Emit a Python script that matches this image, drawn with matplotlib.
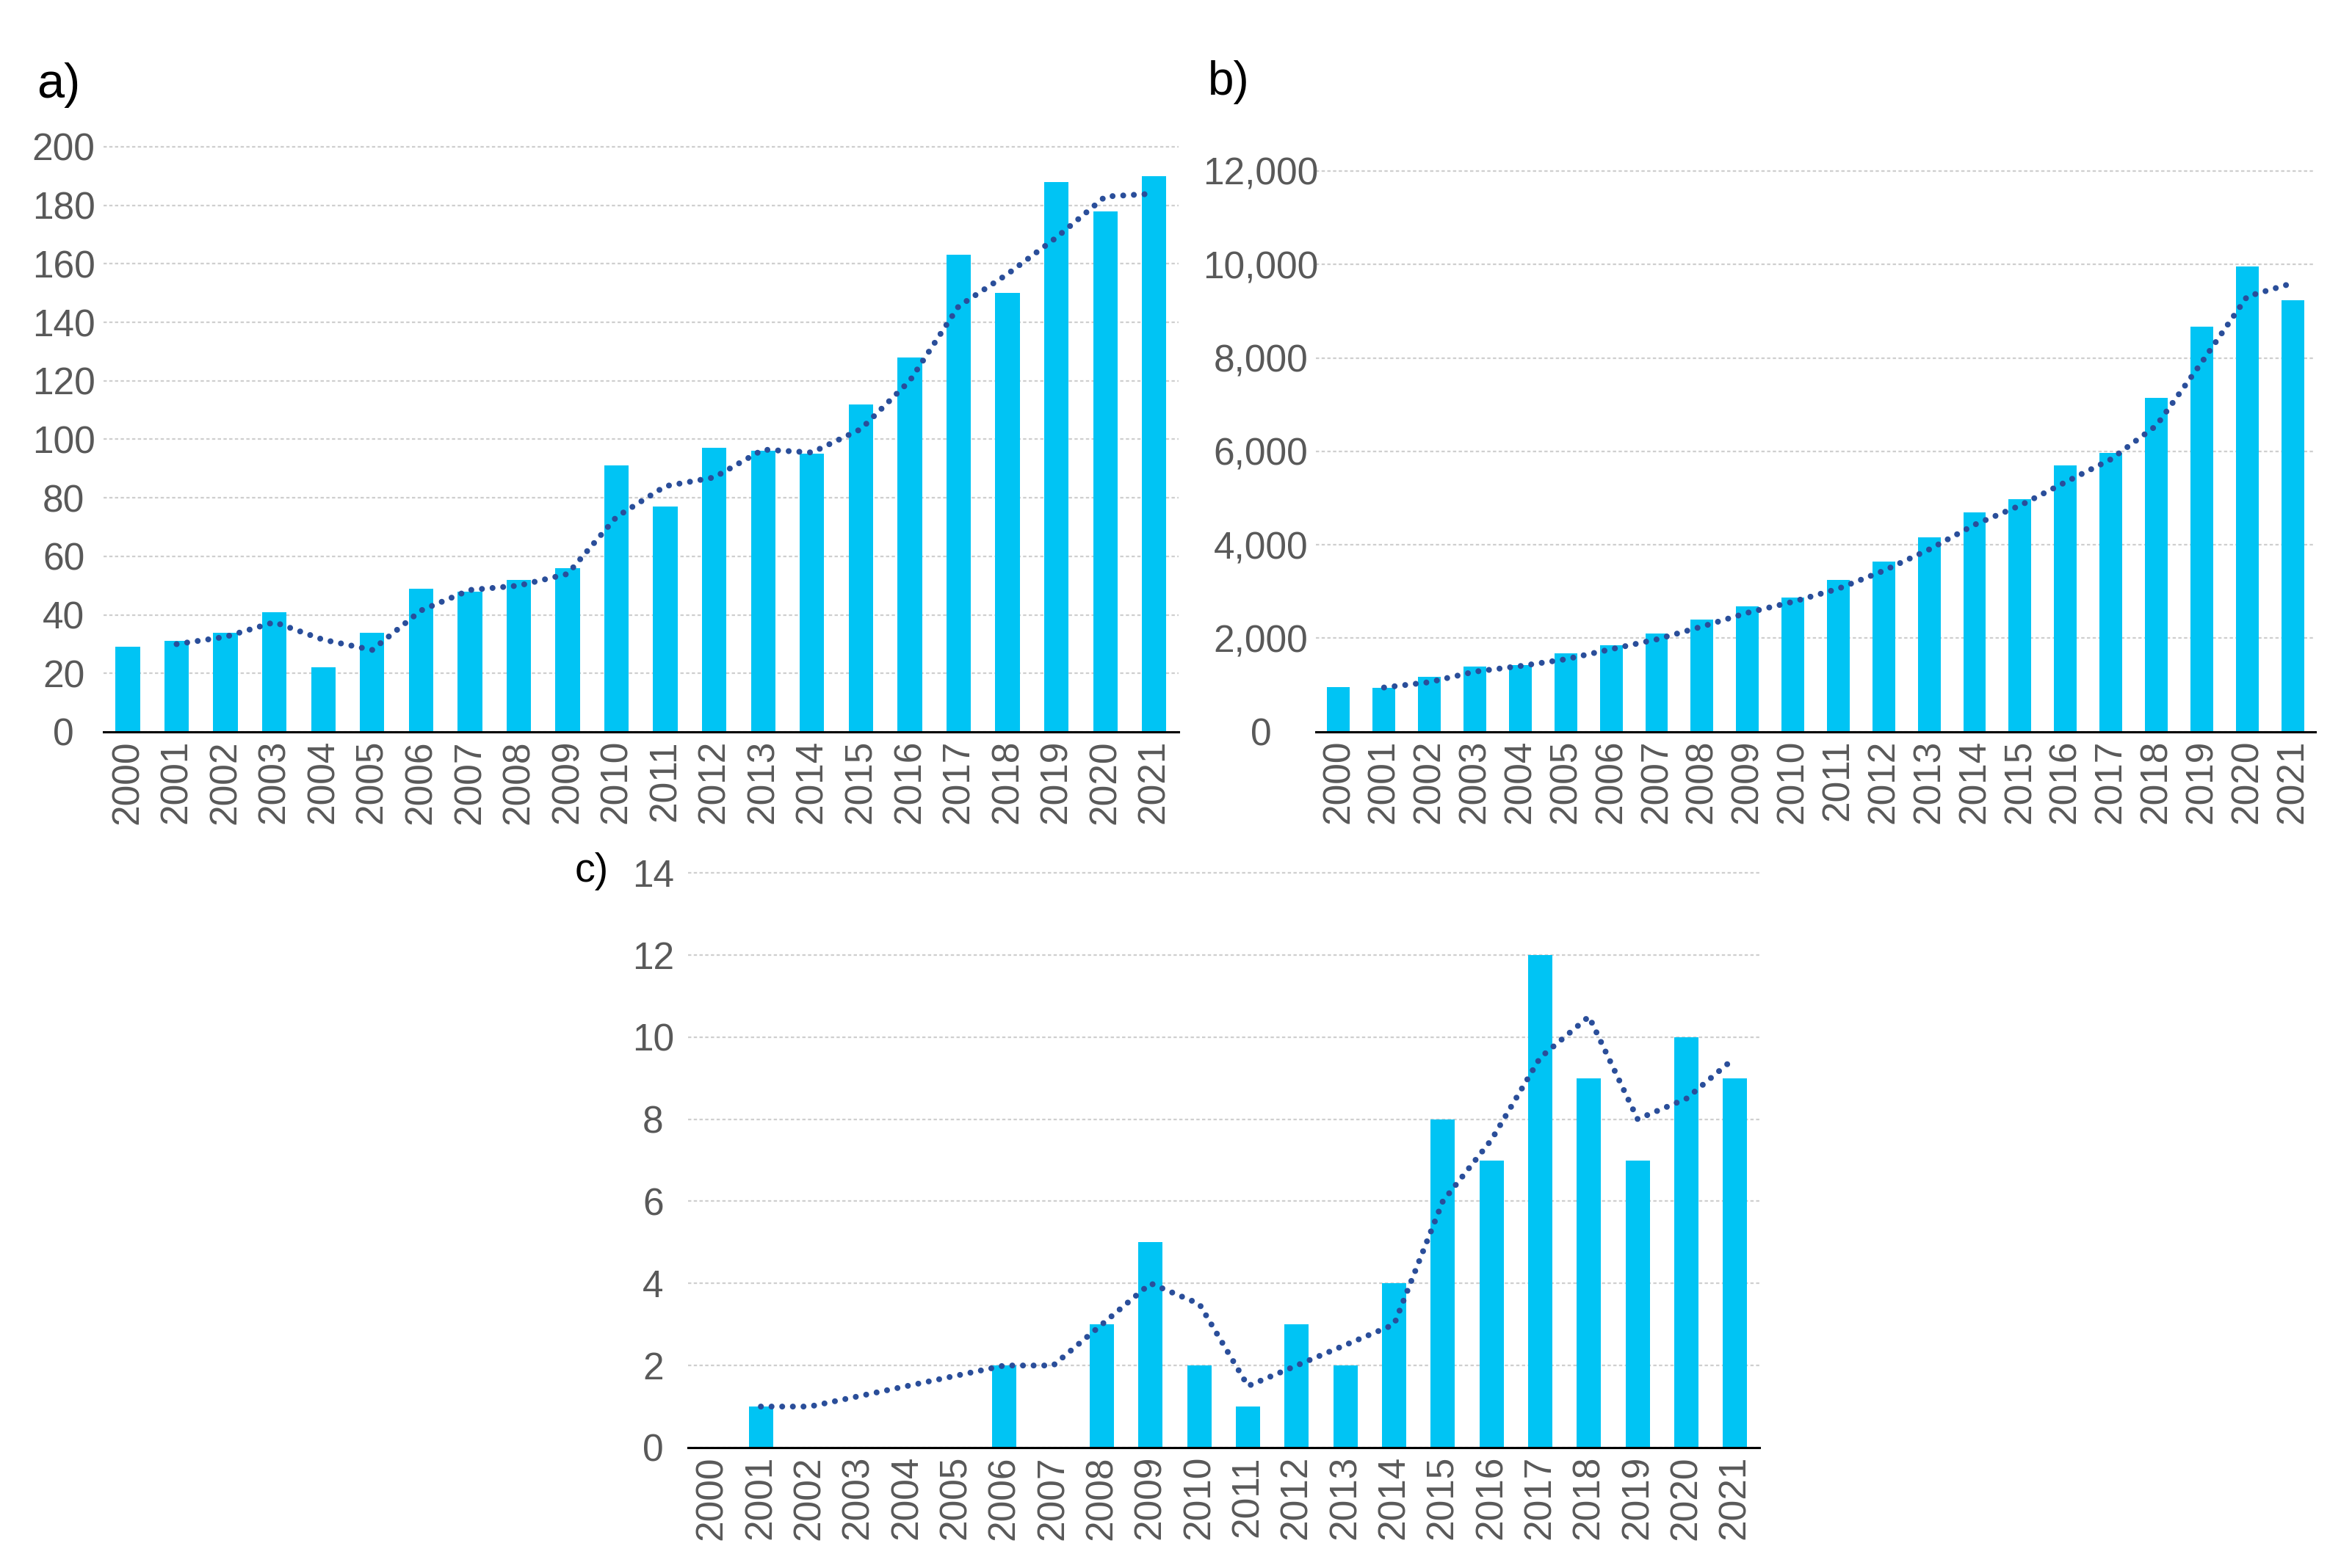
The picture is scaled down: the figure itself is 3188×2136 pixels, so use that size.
import numpy as np
import pandas as pd
import matplotlib
matplotlib.use("Agg")
import matplotlib.pyplot as plt

years = [str(y) for y in range(2000, 2022)]

# panel a
vals_a = [29, 31, 34, 41, 22, 34, 49, 48, 52, 56, 91, 77, 97, 96, 95, 112,
          128, 163, 150, 188, 178, 190]
# panel b
vals_b = [950, 940, 1180, 1390, 1420, 1680, 1850, 2100, 2400, 2690, 2870,
          3250, 3640, 4160, 4700, 4980, 5700, 5960, 7140, 8670, 9960, 9240]
# panel c (blank years have no bar)
vals_c = [np.nan, 1, np.nan, np.nan, np.nan, np.nan, 2, np.nan, 3, 5, 2, 1,
          3, 2, 4, 8, 7, 12, 9, 7, 10, 9]

bar_color = "#00C4F4"
line_color = "#2A4E9A"
tick_color = "#595959"
tick_font = ["Liberation Sans", "DejaVu Sans"]

fig = plt.figure(figsize=(15.94, 10.68), dpi=200)


def panel(rect, vals, ymax, ystep, fmt, ypad):
    ax = fig.add_axes(rect)
    s = pd.Series(vals, dtype=float)
    x = np.arange(len(years))
    ax.bar(x, s.fillna(0).values, width=0.5, color=bar_color, zorder=2)
    # 2 period moving average trendline (Excel style, blanks skipped)
    ma = s.rolling(2, min_periods=1).mean()
    ma.iloc[0] = np.nan
    ma = ma.dropna()
    ax.plot(ma.index, ma.values, color=line_color, lw=2.9,
            linestyle=(0, (0.001, 1.8)), dash_capstyle="round", zorder=3)
    ax.set_xlim(-0.5, len(years) - 0.5)
    ax.set_ylim(0, ymax)
    ticks = np.arange(0, ymax + ystep / 2, ystep)
    ax.set_yticks(ticks)
    ax.set_yticklabels([fmt.format(t) for t in ticks])
    ax.set_xticks(x)
    ax.set_xticklabels(years, rotation=90)
    for sp in ["left", "right", "top"]:
        ax.spines[sp].set_visible(False)
    ax.spines["bottom"].set_color("black")
    ax.spines["bottom"].set_linewidth(1.1)
    ax.spines["bottom"].set_zorder(4)
    ax.tick_params(axis="both", length=0, colors=tick_color, labelsize=18.5)
    ax.tick_params(axis="x", pad=4)
    ax.tick_params(axis="y", pad=ypad)
    for lab in ax.get_yticklabels():
        lab.set_horizontalalignment("center")
        lab.set_family(tick_font)
    for lab in ax.get_xticklabels():
        lab.set_family(tick_font)
    ax.yaxis.grid(True, color="#CFCFCF", lw=0.8, linestyle=(0, (2, 1.5)), zorder=0)
    for gl in ax.get_ygridlines():
        gl.set_clip_on(False)
    ax.set_axisbelow(True)
    return ax


panel([0.04413, 0.53324, 0.45932, 0.37313], vals_a, 200, 20, "{:.0f}", 19.5)
panel([0.56211, 0.53338, 0.42691, 0.35754], vals_b, 12000, 2000, "{:,.0f}", 27)
panel([0.29382, 0.07678, 0.45775, 0.36657], vals_c, 14, 2, "{:.0f}", 17)

fig.text(0.0157, 0.9457, "a)", fontsize=24, family=tick_font, va="center")
fig.text(0.516, 0.9476, "b)", fontsize=23, family=tick_font, va="center")
fig.text(0.2456, 0.4443, "c)", fontsize=20, family=tick_font, va="center")

fig.savefig("out.png", dpi=200)
